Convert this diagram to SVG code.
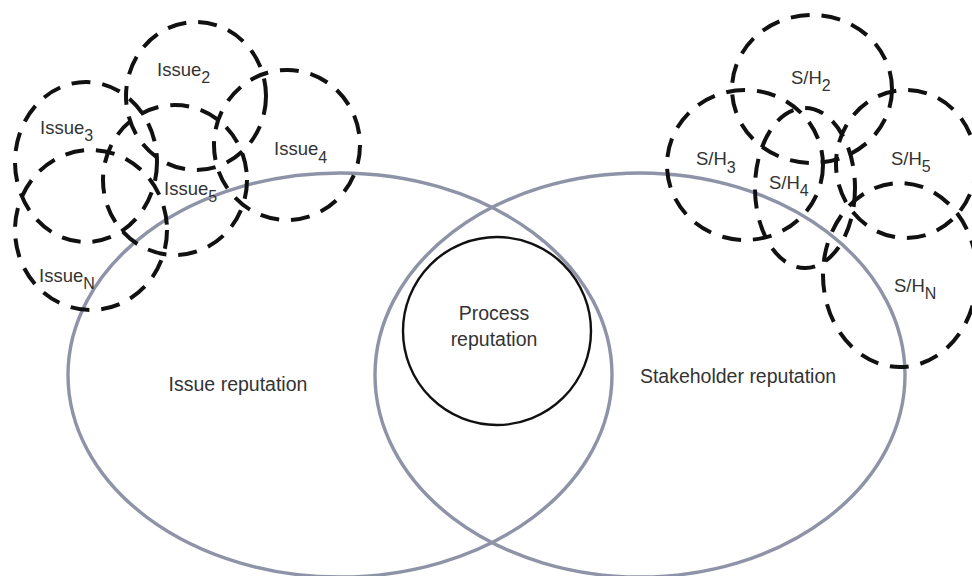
<svg xmlns="http://www.w3.org/2000/svg" width="972" height="576" viewBox="0 0 972 576">
<style>
.big{fill:none;stroke:#8f93a8;stroke-width:3.4}
.proc{fill:none;stroke:#111;stroke-width:2.4}
.dash{fill:none;stroke:#111;stroke-width:4;stroke-dasharray:19 12}
text{font-family:"Liberation Sans",Arial,sans-serif;fill:#333}
.lbl{font-size:18.5px}
.main{font-size:19.5px}
.sub{font-size:16px}
</style>
<rect width="972" height="576" fill="#fff"/>
<g id="issue-reputation">
<ellipse class="big" cx="340" cy="375" rx="272" ry="202"/>
<text class="main" x="238" y="391" text-anchor="middle">Issue reputation</text>
</g>
<g id="stakeholder-reputation">
<ellipse class="big" cx="640" cy="375" rx="265" ry="202"/>
<text class="main" x="738" y="383" text-anchor="middle">Stakeholder reputation</text>
</g>
<g id="process-reputation">
<circle class="proc" cx="497" cy="331" r="94"/>
<text class="main" x="494" y="320" text-anchor="middle">Process</text>
<text class="main" x="494" y="346" text-anchor="middle">reputation</text>
</g>
<g id="issue2">
<ellipse class="dash" cx="196" cy="96" rx="70" ry="74"/>
<text class="lbl" x="157" y="76">Issue<tspan class="sub" dy="7">2</tspan></text>
</g>
<g id="issue3">
<ellipse class="dash" cx="86" cy="162" rx="71" ry="80"/>
<text class="lbl" x="40" y="134">Issue<tspan class="sub" dy="7">3</tspan></text>
</g>
<g id="issue4">
<ellipse class="dash" cx="287" cy="145" rx="73" ry="75"/>
<text class="lbl" x="274" y="155">Issue<tspan class="sub" dy="8">4</tspan></text>
</g>
<g id="issue5">
<ellipse class="dash" cx="175" cy="180" rx="72" ry="75"/>
<text class="lbl" x="164" y="195">Issue<tspan class="sub" dy="7">5</tspan></text>
</g>
<g id="issueN">
<ellipse class="dash" cx="91" cy="230" rx="76" ry="80"/>
<text class="lbl" x="39" y="282">Issue<tspan class="sub" dy="7">N</tspan></text>
</g>
<g id="sh2">
<ellipse class="dash" cx="812" cy="89" rx="80" ry="74"/>
<text class="lbl" x="791" y="84">S/H<tspan class="sub" dy="7">2</tspan></text>
</g>
<g id="sh3">
<ellipse class="dash" cx="745" cy="165" rx="78" ry="75"/>
<text class="lbl" x="696" y="165">S/H<tspan class="sub" dy="8">3</tspan></text>
</g>
<g id="sh4">
<ellipse class="dash" cx="805" cy="188" rx="50" ry="80"/>
<text class="lbl" x="769" y="189">S/H<tspan class="sub" dy="7">4</tspan></text>
</g>
<g id="sh5">
<ellipse class="dash" cx="906" cy="164" rx="70" ry="74"/>
<text class="lbl" x="891" y="165">S/H<tspan class="sub" dy="7">5</tspan></text>
</g>
<g id="shN">
<ellipse class="dash" cx="900" cy="275" rx="77" ry="92"/>
<text class="lbl" x="894" y="292">S/H<tspan class="sub" dy="7">N</tspan></text>
</g>
<g id="connectors"/>
</svg>
